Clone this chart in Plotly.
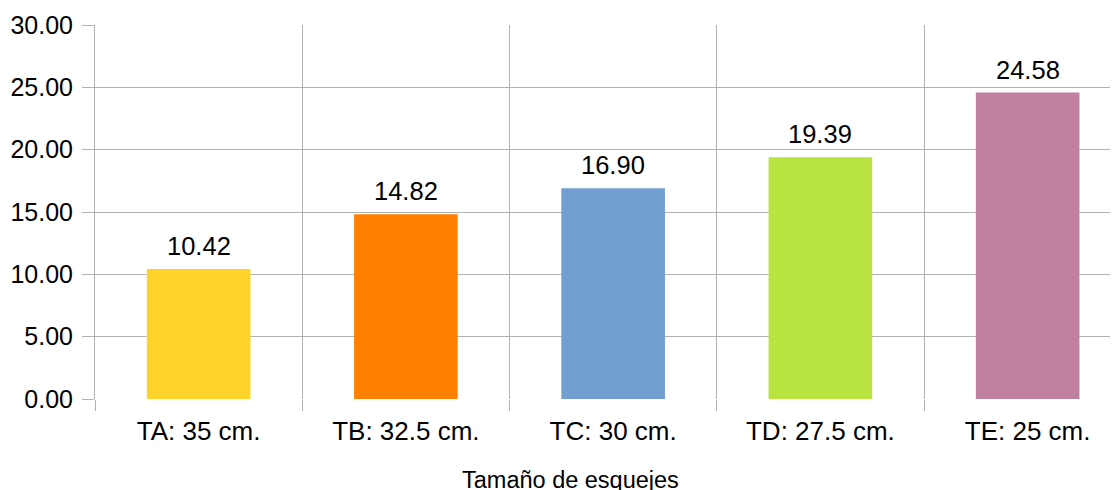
import plotly.graph_objects as go

categories = ["TA: 35 cm.", "TB: 32.5 cm.", "TC: 30 cm.", "TD: 27.5 cm.", "TE: 25 cm."]
values = [10.42, 14.82, 16.90, 19.39, 24.58]
colors = ["#FDD32A", "#FF8000", "#729FCF", "#B9E33E", "#C0809F"]
y_ticks = [0, 5, 10, 15, 20, 25, 30]
x_title = "Tamaño de esquejes"

FONT = "Liberation Sans, Arial, sans-serif"
GRID = "#B3B3B3"

fig = go.Figure()
fig.add_trace(go.Bar(
    x=categories, y=values, marker=dict(color=colors, line=dict(width=0)),
    width=0.5, showlegend=False, hoverinfo="x+y",
))
for c, v in zip(categories, values):
    fig.add_annotation(x=c, y=v, text=f"{v:.2f}", showarrow=False,
                       yanchor="bottom", yshift=7,
                       font=dict(family=FONT, size=25.5, color="#000000"))

# page body has an 8px margin, so the figure is 8px smaller and margins shifted
W, H = 1110, 482
ML, MT, MB = 87, 17, 91
fig.update_layout(
    width=W, height=H,
    margin=dict(l=ML, r=0, t=MT, b=MB),
    paper_bgcolor="white", plot_bgcolor="white",
    font=dict(family=FONT, size=24, color="#000000"),
    bargap=0.5,
)
# x-axis title, centred slightly left of the visible plot centre as in the original
fig.add_annotation(
    xref="paper", yref="paper",
    x=(570 - 8 - ML) / (W - ML), y=-(480 - 8 - (H - MB)) / (H - MT - MB) + 0 * 0,
    text=x_title, showarrow=False, xanchor="center", yanchor="middle",
    font=dict(family=FONT, size=23.5, color="#000000"),
)
fig.update_xaxes(
    type="category", range=[-0.5, 4.436], automargin=False,
    tickson="boundaries", showgrid=True, gridcolor=GRID, gridwidth=1,
    ticks="outside", ticklen=11, tickcolor=GRID,
    showline=False, zeroline=False,
    ticklabelstandoff=14,
    tickfont=dict(family=FONT, size=26, color="#000000"),
)
fig.update_yaxes(
    range=[0, 30], tickvals=y_ticks, ticktext=[f"{t:.2f}" for t in y_ticks],
    automargin=False,
    showgrid=True, gridcolor=GRID, gridwidth=1,
    ticks="outside", ticklen=12, tickcolor=GRID,
    showline=True, linecolor=GRID, linewidth=1,
    zeroline=False, ticklabelstandoff=4,
    tickfont=dict(family=FONT, size=25, color="#000000"),
)

fig.write_html("out.html")
